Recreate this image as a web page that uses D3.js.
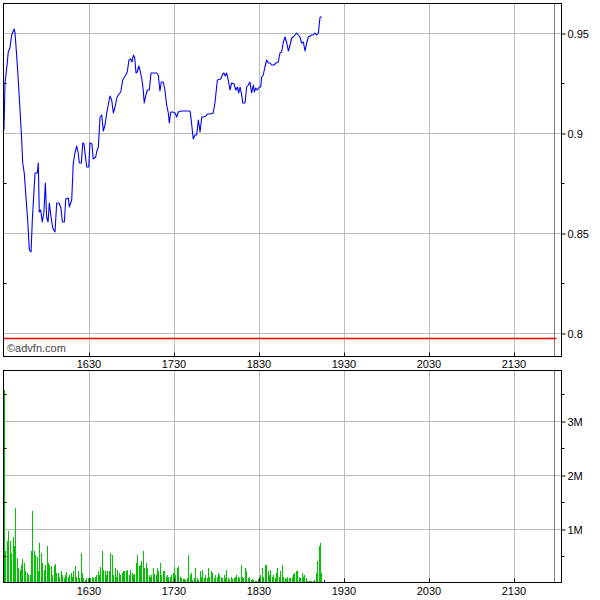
<!DOCTYPE html>
<html><head><meta charset="utf-8">
<script src="https://cdn.jsdelivr.net/npm/d3@7"></script>
<style>body{margin:0;background:#fff}svg{display:block}</style>
</head><body><svg id="c" width="600" height="600"></svg>
<script>
// ---- data ----
const sessionStart = "15:30";
const sessionEnd = "21:58";
const refLineEnd = "22:00";
const timeTicks = ["16:30","17:30","18:30","19:30","20:30","21:30"];
const priceTicks = [0.8, 0.85, 0.9, 0.95];
const priceMinorTicks = [0.825, 0.875, 0.925];
const volumeTicks = [1e6, 2e6, 3e6];
const volumeMinorTicks = [0.5e6, 1.5e6, 2.5e6, 3.5e6];
const referencePrice = 0.7975;
const copyright = "\u00A9advfn.com";
// price ticks: minutes after 15:30 and price
const priceMinutes = [0,0.7,2.3,3.0,4.2,5.4,7.1,7.8,9.0,10.1,11.3,12.5,13.2,14.3,15.5,16.7,17.9,19.1,20.0,21.9,
23.5,24.2,24.9,25.9,27.0,28.2,29.2,30.1,31.1,32.0,33.2,34.4,36.0,37.2,38.8,40.2,41.2,42.6,43.6,45.4,
46.1,47.8,48.9,50.1,51.3,52.4,53.2,54.6,55.6,56.5,57.2,58.4,59.8,60.7,62.1,63.0,64.7,65.4,66.6,67.8,
69.0,70.1,71.3,72.5,73.6,74.8,76.0,77.2,78.4,79.6,80.7,82.4,83.8,84.7,85.9,87.0,88.2,89.4,90.4,91.3,
92.3,93.2,94.1,95.1,96.0,97.4,98.3,99.0,100.2,101.2,102.6,103.8,105.4,107.8,108.9,110.1,111.0,112.4,113.6,114.8,
116.0,116.7,117.7,119.1,120.7,121.9,123.0,125.4,129.0,131.3,132.0,132.9,133.6,134.8,136.0,137.2,138.4,139.6,140.7,142.6,
143.5,145.4,147.7,148.9,150.6,153.0,154.4,155.3,156.2,157.2,158.3,159.5,160.7,162.4,163.6,164.7,165.7,166.6,167.8,168.5,
170.1,171.3,172.5,173.6,174.8,176.0,176.7,177.7,178.8,180.2,181.2,181.9,183.0,184.2,185.4,186.6,187.8,189.0,190.6,192.0,
193.6,194.8,196.0,197.2,198.4,199.6,200.7,201.9,203.1,204.2,205.4,206.6,207.7,208.9,210.1,211.3,212.5,213.7,214.8,216.0,
217.2,218.3,219.5,220.7,221.9,223.1,224.3];
const priceValues = [0.9015,0.925,0.935,0.9405,0.9425,0.949,0.952,0.95,0.938,0.9265,0.9115,0.8965,0.885,0.88,0.868,0.8565,0.8415,0.8405,0.8565,0.88,
0.88,0.885,0.8605,0.8615,0.8555,0.8605,0.875,0.858,0.8555,0.865,0.858,0.8525,0.8505,0.865,0.865,0.8625,0.8555,0.8555,0.867,0.8675,
0.863,0.8665,0.885,0.89,0.8935,0.89,0.885,0.885,0.895,0.8945,0.89,0.883,0.883,0.895,0.8945,0.887,0.888,0.8905,0.893,0.908,
0.909,0.901,0.904,0.91,0.914,0.9185,0.9165,0.91,0.913,0.9175,0.919,0.9205,0.9265,0.9275,0.929,0.9305,0.9365,0.937,0.9355,0.939,
0.9375,0.93,0.9305,0.9335,0.9315,0.9265,0.9215,0.915,0.919,0.9215,0.9215,0.93,0.93,0.93,0.929,0.921,0.9255,0.9255,0.9215,0.914,
0.91,0.905,0.9105,0.9105,0.91,0.908,0.9105,0.911,0.911,0.911,0.9075,0.9015,0.897,0.899,0.899,0.9065,0.9005,0.908,0.908,0.9085,
0.9095,0.9095,0.91,0.915,0.9265,0.927,0.9295,0.93,0.9285,0.93,0.9265,0.9215,0.925,0.9245,0.9215,0.923,0.92,0.923,0.919,0.915,
0.915,0.923,0.924,0.9255,0.92,0.924,0.9205,0.9225,0.9215,0.923,0.923,0.928,0.929,0.933,0.9365,0.935,0.935,0.934,0.934,0.935,
0.9355,0.94,0.9405,0.9455,0.948,0.945,0.941,0.944,0.9475,0.948,0.949,0.95,0.949,0.948,0.945,0.9455,0.941,0.945,0.948,0.9485,
0.949,0.949,0.95,0.949,0.95,0.958,0.958];
// volume per minute from 15:30, in millions of shares
const volumeM = [3.57,0.6,0.77,0.96,0.77,0.56,0.86,0.68,1.39,
0.46,0.28,0.25,0.34,0.45,0.37,0.22,0.19,0.15,0.15,
0.59,1.33,0.6,0.52,0.49,0.22,0.74,0.56,0.37,0.25,
0.34,0.68,0.37,0.34,0.31,0.15,0.31,0.35,0.19,
0.19,0.12,0.23,0.15,0.09,0.15,0.2,0.12,0.15,
0.19,0.12,0.22,0.31,0.12,0.22,0.09,0.56,0.19,0.09,
0.06,0.09,0.09,0.1,0.09,0.12,0.09,0.12,0.15,
0.22,0.15,0.29,0.6,0.25,0.22,0.15,0.22,0.23,
0.56,0.52,0.15,0.27,0.12,0.25,0.19,0.15,0.19,0.22,
0.22,0.22,0.25,0.15,0.25,0.19,0.15,0.17,0.37,
0.52,0.31,0.34,0.4,0.6,0.28,0.37,0.28,0.15,
0.12,0.15,0.27,0.17,0.15,0.28,0.23,0.37,0.15,
0.22,0.23,0.12,0.15,0.12,0.12,0.15,0.19,0.29,
0.15,0.27,0.31,0.12,0.09,0.08,0.08,0.06,0.1,0.52,
0.15,0.19,0.06,0.09,0.28,0.1,0.06,0.22,
0.12,0.25,0.09,0.15,0.09,0.27,0.12,0.22,0.19,0.09,
0.15,0.12,0.19,0.14,0.12,0.09,0.14,0.09,0.25,
0.09,0.06,0.12,0.08,0.09,0.12,0.15,0.12,0.09,0.33,
0.12,0.09,0.28,0.22,0.09,0.12,0.06,0.08,0.06,
0.03,0.04,0.08,0.12,0.15,0.27,0.12,0.33,0.33,0.22,
0.15,0.25,0.12,0.15,0.09,0.19,0.27,0.12,0.22,
0.33,0.12,0.09,0.08,0.12,0.09,0.1,0.12,0.17,0.19,
0.22,0.23,0.12,0.09,0.19,0.12,0.15,0.09,0.03,
0.04,0.03,0.03,0.03,0.06,0.19,0.4,0.68,0.74,0.19];
const lastVolumeM = 0.03;

// ---- drawing ----
const svg = d3.select("#c");
const T = s => { const [h, m] = s.split(":"); return new Date(2020, 0, 1, +h, +m); };
const tAt = min => new Date(T(sessionStart).getTime() + min * 60000);

const L = 3.5, R = 561.5;
const top1 = 3.5, bot1 = 356.5, top2 = 370.5, bot2 = 582.5;

const x = d3.scaleTime().domain([T("16:30"), T("21:30")]).range([89, 514]);
const yP = d3.scaleLinear().domain([0.8, 0.95]).range([333, 33]);
const yV = d3.scaleLinear().domain([0, 3e6]).range([583, 421]);

const gridColor = "#b6bdbd";
const font = "'Liberation Sans Narrow','Liberation Sans',Arial,sans-serif";

svg.append("defs").append("clipPath").attr("id", "clipTop")
  .append("rect").attr("x", L).attr("y", top1).attr("width", R - L).attr("height", bot1 - top1);

function panel(top, bot, yScale, majors, minors, fmt) {
  const g = svg.append("g");
  // vertical grid
  g.selectAll(".vg").data(timeTicks).join("line")
    .attr("x1", d => Math.round(x(T(d))) + 0.5).attr("x2", d => Math.round(x(T(d))) + 0.5)
    .attr("y1", top).attr("y2", bot).attr("stroke", gridColor);
  // horizontal grid
  g.selectAll(".hg").data(majors).join("line")
    .attr("x1", L).attr("x2", R)
    .attr("y1", d => Math.round(yScale(d)) + 0.5).attr("y2", d => Math.round(yScale(d)) + 0.5)
    .attr("stroke", gridColor);
  // session end marker
  const xe = Math.round(x(T(sessionEnd))) + 0.5;
  g.append("line").attr("x1", xe).attr("x2", xe).attr("y1", top).attr("y2", bot)
    .attr("stroke", "#7f7f7f");
  return g;
}

function frame(top, bot, yScale, majors, minors, fmt) {
  const g = svg.append("g");
  g.append("rect").attr("x", L).attr("y", top).attr("width", R - L).attr("height", bot - top)
    .attr("fill", "none").attr("stroke", "#000");
  // right axis
  const ax = d3.axisRight(yScale).tickValues(majors).tickSize(4).tickPadding(2).tickFormat(fmt);
  const ag = g.append("g").attr("transform", `translate(${R},0.5)`).call(ax);
  ag.select(".domain").remove();
  ag.selectAll("text").attr("font-family", font).attr("font-size", 11).attr("fill", "#000");
  ag.selectAll("line").attr("stroke", "#000");
  // minor ticks right (outside) and left (inside)
  g.selectAll(".mr").data(minors.filter(d => yScale(d) > top && yScale(d) < bot)).join("line")
    .attr("x1", R).attr("x2", R + 3)
    .attr("y1", d => Math.round(yScale(d)) + 0.5).attr("y2", d => Math.round(yScale(d)) + 0.5)
    .attr("stroke", "#000");
  g.selectAll(".ml").data(minors.filter(d => yScale(d) > top && yScale(d) < bot)).join("line")
    .attr("x1", L).attr("x2", L + 3)
    .attr("y1", d => Math.round(yScale(d)) + 0.5).attr("y2", d => Math.round(yScale(d)) + 0.5)
    .attr("stroke", "#000");
  // x ticks inside at bottom
  g.selectAll(".xt").data(timeTicks).join("line")
    .attr("x1", d => Math.round(x(T(d))) + 0.5).attr("x2", d => Math.round(x(T(d))) + 0.5)
    .attr("y1", bot - 4).attr("y2", bot).attr("stroke", "#000");
  return g;
}

// ---- top panel ----
panel(top1, bot1, yP, priceTicks);
svg.append("line")
  .attr("x1", x(T(sessionStart)) - 1).attr("x2", x(T(refLineEnd)))
  .attr("y1", Math.round(yP(referencePrice)) + 0.5).attr("y2", Math.round(yP(referencePrice)) + 0.5)
  .attr("stroke", "#ff0000").attr("stroke-width", 1.3);
const line = d3.line().x((d, i) => x(tAt(priceMinutes[i]))).y(d => yP(d));
svg.append("path").datum(priceValues).attr("d", line)
  .attr("fill", "none").attr("stroke", "#0000ff").attr("stroke-width", 1.1)
  .attr("stroke-linejoin", "round").attr("clip-path", "url(#clipTop)");
svg.append("text").attr("x", 7).attr("y", 352).text(copyright)
  .attr("font-family", "'Liberation Sans',Arial,sans-serif").attr("font-size", 11).attr("fill", "#444");
frame(top1, bot1, yP, priceTicks, priceMinorTicks, d3.format(""));

// ---- volume panel ----
panel(top2, bot2, yV, volumeTicks);
svg.append("g").selectAll("rect").data(volumeM).join("rect")
  .attr("x", (d, i) => Math.round(x(tAt(i))))
  .attr("width", 1)
  .attr("y", d => Math.round(yV(d * 1e6)))
  .attr("height", d => 583 - Math.round(yV(d * 1e6)))
  .attr("fill", "#00c400").attr("shape-rendering", "crispEdges");
svg.append("rect")
  .attr("x", Math.round(x(tAt(volumeM.length + 1))))
  .attr("width", 1)
  .attr("y", Math.round(yV(lastVolumeM * 1e6)) - 1)
  .attr("height", 583 - Math.round(yV(lastVolumeM * 1e6)))
  .attr("fill", "#0000ff").attr("shape-rendering", "crispEdges");
frame(top2, bot2, yV, volumeTicks, volumeMinorTicks, d => (d / 1e6) + "M");

// ---- time labels ----
[367.5, 594.5].forEach(yy => {
  svg.append("g").selectAll("text").data(timeTicks).join("text")
    .attr("x", d => x(T(d))).attr("y", yy)
    .attr("text-anchor", "middle")
    .attr("font-family", font).attr("font-size", 11).attr("fill", "#000")
    .text(d => d.replace(":", ""));
});
</script>
</body></html>
